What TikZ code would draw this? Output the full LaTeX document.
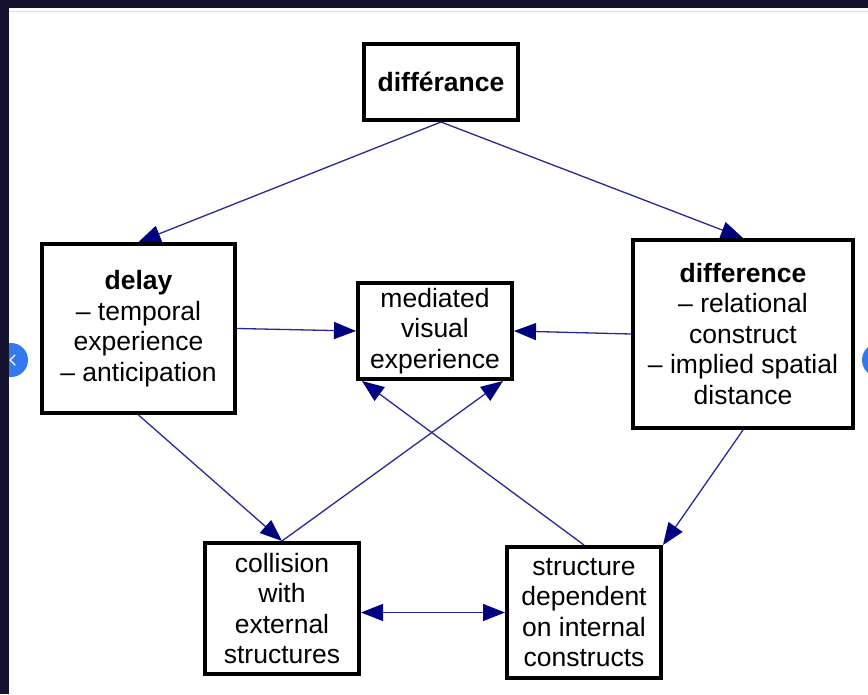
\documentclass[tikz,border=0pt]{standalone}
\usepackage{fontspec}
\setmainfont{Liberation Sans}
\usetikzlibrary{arrows.meta,calc}
\definecolor{linkblue}{RGB}{40,40,150}
\definecolor{headblue}{RGB}{0,0,128}
\definecolor{framedark}{RGB}{21,19,45}
\definecolor{uiblue}{RGB}{52,120,240}
\begin{document}
\begin{tikzpicture}[x=1pt,y=-1pt,
  box/.style={draw=black,line width=4pt,fill=white,inner sep=0pt,align=center,
    font=\fontsize{26.5}{30.5}\selectfont},
  link/.style={draw=linkblue,line width=1.3pt,
    -{Triangle[length=22pt,width=17pt,fill=headblue,color=headblue]}},
  biglink/.style={draw=linkblue,line width=1.3pt,
    {Triangle[length=22pt,width=17pt,fill=headblue,color=headblue]}-{Triangle[length=22pt,width=17pt,fill=headblue,color=headblue]}}
]
\useasboundingbox (0,0) rectangle (868,694);
\fill[white] (0,0) rectangle (868,694);
% screenshot frame
\draw[black!12,line width=1pt] (9,11) -- (868,11);
\fill[uiblue] (11,360) circle (17);
\fill[uiblue] (879,360) circle (17);
\fill[framedark] (0,0) rectangle (868,8);
\fill[framedark] (0,0) rectangle (9,694);
\draw[white,line width=1.4pt,line cap=round,line join=round] (15,355) -- (10,360) -- (15,365);

% nodes
\node[box,minimum width=154,minimum height=76] (dfa) at (441,82) {\textbf{différance}};
\node[box,minimum width=193,minimum height=169] (delay) at (138.5,328.5)
  {\textbf{delay}\\-- temporal\\experience\\-- anticipation};
\node[box,minimum width=154,minimum height=96] (med) at (435,331)
  {mediated\\visual\\experience};
\node[box,minimum width=220,minimum height=188] (diff) at (743,334)
  {\textbf{difference}\\-- relational\\construct\\-- implied spatial\\distance};
\node[box,minimum width=154,minimum height=131] (coll) at (282,608.5)
  {collision\\with\\external\\structures};
\node[box,minimum width=154,minimum height=131] (struct) at (584,612.5)
  {structure\\dependent\\on internal\\constructs};

% connectors
\draw[link] (dfa.south) -- (delay.north);
\draw[link] (dfa.south) -- (diff.north);
\draw[link] (delay.east) -- (med.west);
\draw[link] (diff.west) -- (med.east);
\draw[link] (delay.south) -- (coll.north);
\draw[link] (coll.north) -- ([xshift=-11pt]med.south east);
\draw[link] (struct.north) -- ([xshift=6pt]med.south west);
\draw[link] (diff.south) -- (struct.north east);
\draw[biglink] (coll.east |- struct.west) -- (struct.west);
\end{tikzpicture}
\end{document}
